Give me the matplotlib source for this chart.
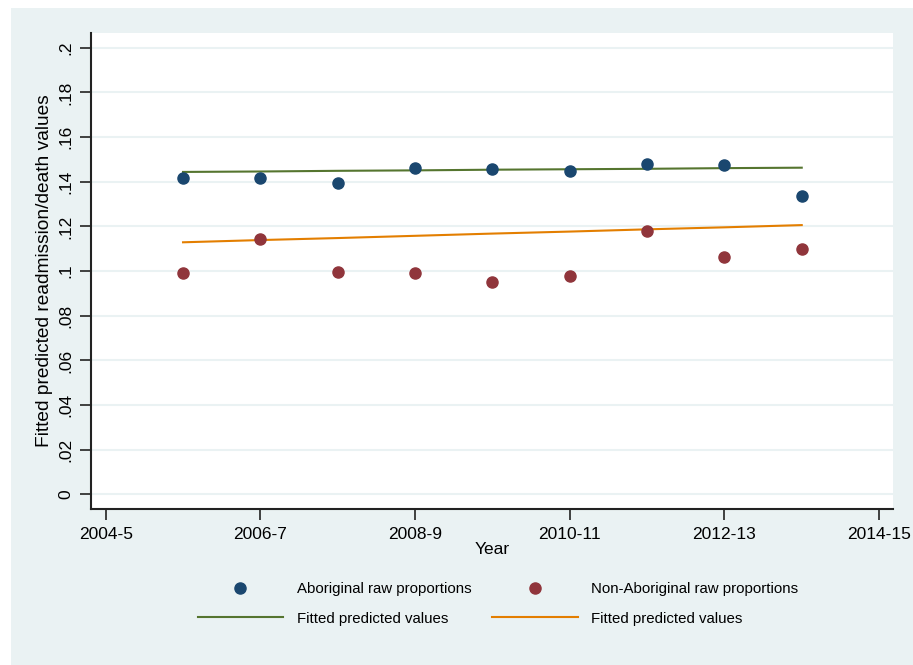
import matplotlib.pyplot as plt
from matplotlib.patches import Rectangle

years = [2005, 2006, 2007, 2008, 2009, 2010, 2011, 2012, 2013]
abor_raw = [0.1415, 0.1415, 0.1395, 0.1460, 0.1456, 0.1448, 0.1480, 0.1475, 0.1337]
nonabor_raw = [0.0991, 0.1144, 0.0994, 0.0991, 0.0952, 0.0977, 0.1179, 0.1062, 0.1100]
abor_fit = [0.1444, 0.1446, 0.1449, 0.1451, 0.1454, 0.1456, 0.1458, 0.1461, 0.1463]
nonabor_fit = [0.1129, 0.1139, 0.1148, 0.1158, 0.1168, 0.1177, 0.1187, 0.1196, 0.1206]

xticks = [2004, 2006, 2008, 2010, 2012, 2014]
xlabels = ["2004-5", "2006-7", "2008-9", "2010-11", "2012-13", "2014-15"]
yticks = [0, 0.02, 0.04, 0.06, 0.08, 0.1, 0.12, 0.14, 0.16, 0.18, 0.2]
ylabels = ["0", ".02", ".04", ".06", ".08", ".1", ".12", ".14", ".16", ".18", ".2"]

bg = "#eaf2f3"
navy = "#1a476f"
maroon = "#90353b"
green = "#55752f"
orange = "#e37e00"

plt.rcParams['font.family'] = ['Liberation Sans', 'DejaVu Sans']

fig = plt.figure(figsize=(9.13, 6.65), dpi=100)
fig.patch.set_facecolor("white")
fig.patches.append(Rectangle((11 / 913, 0), 1, 1 - 8 / 665, transform=fig.transFigure,
                             facecolor=bg, edgecolor="none", zorder=-10))

ax = fig.add_axes([91 / 913, 1 - 509 / 665, (893 - 91) / 913, (509 - 33) / 665])
ax.set_facecolor("white")

ax.plot(years, abor_fit, color=green, lw=1.5, label="Fitted predicted values", zorder=3)
ax.plot(years, nonabor_fit, color=orange, lw=1.5, label="Fitted predicted values", zorder=3)
ax.plot(years, abor_raw, "o", color=navy, ms=8, label="Aboriginal raw proportions", zorder=4)
ax.plot(years, nonabor_raw, "o", color=maroon, ms=8, label="Non-Aboriginal raw proportions", zorder=4)

ax.set_xlim(2003.81, 2014.18)
ax.set_ylim(-0.0065, 0.2066)
ax.set_xticks(xticks)
ax.set_xticklabels(xlabels, fontsize=12.5)
ax.set_yticks(yticks)
ax.set_yticklabels(ylabels, fontsize=12.5, rotation=90, va="center")
ax.tick_params(axis="both", length=8, width=1.2, color="#222222", pad=5)
ax.grid(axis="y", color=bg, lw=1.5, zorder=0)
ax.set_axisbelow(True)

for s in ["top", "right"]:
    ax.spines[s].set_visible(False)
for s in ["left", "bottom"]:
    ax.spines[s].set_color("#222222")
    ax.spines[s].set_linewidth(1.5)

ax.set_xlabel("Year", fontsize=12.5, labelpad=0)
ax.set_ylabel("Fitted predicted readmission/death values", fontsize=13.8)
ax.yaxis.set_label_coords(-38 / 802, 0.5)

h, l = ax.get_legend_handles_labels()
order = [2, 0, 3, 1]
fig.legend([h[i] for i in order], [l[i] for i in order], ncol=2,
           loc="center", bbox_to_anchor=(498 / 913, 1 - 604 / 665),
           frameon=False, fontsize=10.8, handlelength=5.7, handletextpad=0.9,
           columnspacing=1.4, labelspacing=1.0)

fig.savefig("out.png", dpi=100)
